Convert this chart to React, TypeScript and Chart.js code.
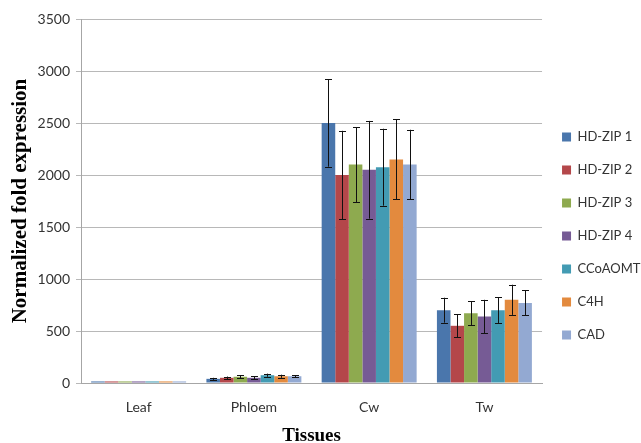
import React, { useEffect, useRef } from 'react';
import { Chart, registerables } from 'chart.js';

Chart.register(...registerables);

const tissues = ['Leaf', 'Phloem', 'Cw', 'Tw'];
const seriesNames = ['HD-ZIP 1', 'HD-ZIP 2', 'HD-ZIP 3', 'HD-ZIP 4', 'CCoAOMT', 'C4H', 'CAD'];
const seriesColors = ['#4A76AC', '#B4474A', '#8EAA4F', '#765B95', '#439BB3', '#E38A3E', '#93A9D2'];

const hdzip1 = [15, 40, 2500, 700];
const hdzip2 = [15, 50, 2000, 550];
const hdzip3 = [15, 60, 2100, 670];
const hdzip4 = [15, 50, 2050, 640];
const ccoaomt = [15, 75, 2075, 700];
const c4h = [15, 65, 2150, 800];
const cad = [15, 65, 2100, 770];

const hdzip1Err = [0, 10, 420, 120];
const hdzip2Err = [0, 12, 425, 110];
const hdzip3Err = [0, 15, 360, 115];
const hdzip4Err = [0, 15, 470, 160];
const ccoaomtErr = [0, 15, 370, 125];
const c4hErr = [0, 15, 385, 145];
const cadErr = [0, 10, 335, 120];

const yTicks = [0, 500, 1000, 1500, 2000, 2500, 3000, 3500];

const allValues = [hdzip1, hdzip2, hdzip3, hdzip4, ccoaomt, c4h, cad];
const allErrors = [hdzip1Err, hdzip2Err, hdzip3Err, hdzip4Err, ccoaomtErr, c4hErr, cadErr];

const errorBarPlugin = {
  id: 'errorBars',
  afterDatasetsDraw(chart: any) {
    const ctx = chart.ctx;
    const yScale = chart.scales.y;
    ctx.save();
    ctx.strokeStyle = '#111';
    ctx.lineWidth = 1;
    chart.data.datasets.forEach((ds: any, i: number) => {
      const meta = chart.getDatasetMeta(i);
      if (meta.hidden) return;
      meta.data.forEach((bar: any, j: number) => {
        const v = ds.data[j];
        const e = ds.errors[j];
        if (!e) return;
        const x = Math.round(bar.x) + 0.5;
        const yt = yScale.getPixelForValue(v + e);
        const yb = yScale.getPixelForValue(v - e);
        ctx.beginPath();
        ctx.moveTo(x, yt);
        ctx.lineTo(x, yb);
        ctx.moveTo(x - 3.5, Math.round(yt) + 0.5);
        ctx.lineTo(x + 3.5, Math.round(yt) + 0.5);
        ctx.moveTo(x - 3.5, Math.round(yb) + 0.5);
        ctx.lineTo(x + 3.5, Math.round(yb) + 0.5);
        ctx.stroke();
      });
    });
    ctx.restore();
  },
};

export default function App() {
  const canvasRef = useRef<HTMLCanvasElement | null>(null);

  useEffect(() => {
    if (!canvasRef.current) return;
    const chart = new Chart(canvasRef.current, {
      type: 'bar',
      data: {
        labels: tissues,
        datasets: seriesNames.map((name, i) => ({
          label: name,
          data: allValues[i],
          errors: allErrors[i],
          backgroundColor: seriesColors[i],
          borderWidth: 0,
          categoryPercentage: 0.824,
          barPercentage: 1.0,
        })) as any,
      },
      options: {
        animation: false,
        responsive: true,
        maintainAspectRatio: false,
        layout: { padding: { top: 19, left: 4, right: -9.5, bottom: 0 } },
        plugins: {
          tooltip: { enabled: false },
          legend: {
            position: 'right',
            title: { display: true, text: ' ', font: { size: 5 }, padding: { top: 2, bottom: 2 } },
            labels: {
              boxWidth: 9,
              boxHeight: 9,
              padding: 20,
              color: '#333',
              font: { family: 'Lato', size: 13 },
            },
          },
        },
        scales: {
          x: {
            grid: { display: false, drawTicks: false },
            border: { display: true, color: '#a6a6a6' },
            ticks: { color: '#333', font: { family: 'Lato', size: 14 }, padding: 16 },
            title: {
              display: true,
              text: 'Tissues',
              color: '#000',
              font: { family: 'Liberation Serif', size: 19, weight: 'bold' },
              padding: { top: 0, bottom: -4.4 },
            },
            afterFit: (scale: any) => {
              scale.height = 60;
            },
          },
          y: {
            min: 0,
            max: 3500,
            afterBuildTicks: (scale: any) => {
              scale.ticks = yTicks.map((v) => ({ value: v }));
            },
            grid: { color: '#b8b8b8', tickLength: 5 },
            border: { display: true, color: '#a6a6a6' },
            ticks: {
              color: '#333',
              font: { family: 'Lato', size: 14 },
              padding: 6,
              callback: (value: any) => String(value),
            },
            title: {
              display: true,
              text: 'Normalized fold expression',
              color: '#000',
              font: { family: 'Liberation Serif', size: 21, weight: 'bold' },
              padding: { top: 4, bottom: 0 },
            },
            afterFit: (scale: any) => {
              scale.width = 77;
            },
          },
        },
      },
      plugins: [errorBarPlugin],
    });
    return () => chart.destroy();
  }, []);

  return (
    <div style={{ position: 'fixed', left: 0, top: 0, width: 641, height: 443 }}>
      <canvas ref={canvasRef} />
    </div>
  );
}
